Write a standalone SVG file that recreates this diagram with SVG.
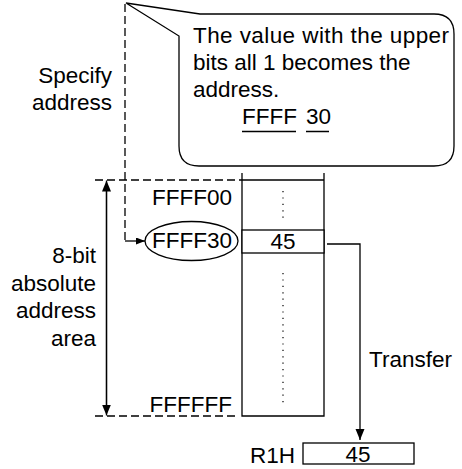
<svg xmlns="http://www.w3.org/2000/svg" width="462" height="469" viewBox="0 0 462 469">
  <style>
    text { font-family: "Liberation Sans", Arial, sans-serif; font-size: 22.5px; fill: #000; }
    .line { fill: none; stroke: #000; stroke-width: 1.3; }
    .dash { fill: none; stroke: #000; stroke-width: 1.3; stroke-dasharray: 8 4; }
    .dots { fill: none; stroke: #000; stroke-width: 1.2; stroke-dasharray: 1.2 5.2; }
    .box { fill: #fff; stroke: #000; stroke-width: 1.3; }
    .end { text-anchor: end; }
    .mid { text-anchor: middle; }
  </style>
  <defs>
    <marker id="head" markerUnits="userSpaceOnUse" markerWidth="12" markerHeight="10" refX="11" refY="4.5" orient="auto">
      <path d="M0,0 L11,4.5 L0,9 Z" fill="#000"/>
    </marker>
    <marker id="headSmall" markerUnits="userSpaceOnUse" markerWidth="10" markerHeight="8" refX="9" refY="3.5" orient="auto">
      <path d="M0,0 L9,3.5 L0,7 Z" fill="#000"/>
    </marker>
  </defs>

  <!-- speech balloon with its pointer -->
  <g id="callout">
    <path class="box" d="M126,3 L200,14 L434,14 Q454,14 454,34 L454,146 Q454,166 434,166 L199,166 Q179,166 179,146 L179,36 Z"/>
    <text x="193" y="43" textLength="256">The value with the upper</text>
    <text x="193" y="70">bits all 1 becomes the</text>
    <text x="193" y="97">address.</text>
    <text x="242" y="124">FFFF</text>
    <text x="306" y="124">30</text>
    <path class="line" d="M242,131.5 H296 M306,131.5 H329"/>
  </g>

  <!-- side labels -->
  <g id="label-specify">
    <text class="end" x="112" y="83">Specify</text>
    <text class="end" x="112" y="110">address</text>
  </g>
  <g id="label-area">
    <text class="end" x="96" y="263">8-bit</text>
    <text class="end" x="96" y="291">absolute</text>
    <text class="end" x="96" y="318">address</text>
    <text class="end" x="96" y="346">area</text>
  </g>

  <!-- address labels -->
  <g id="addr-ffff00">
    <text class="end" x="232" y="205">FFFF00</text>
  </g>
  <g id="addr-ffff30">
    <ellipse class="line" cx="191.5" cy="241" rx="46.5" ry="19.5"/>
    <text class="end" x="232" y="248">FFFF30</text>
  </g>
  <g id="addr-ffffff">
    <text class="end" x="232" y="412">FFFFFF</text>
  </g>

  <!-- memory column -->
  <g id="memory">
    <path class="line" d="M242,173 V416 H324 V173 M242,180 H324"/>
    <rect class="box" x="242" y="230" width="82" height="23"/>
    <text class="mid" x="283" y="249">45</text>
    <path class="dots" d="M283,191 V223 M283,273 V403"/>
  </g>

  <!-- destination register -->
  <g id="r1h">
    <text x="250" y="463">R1H</text>
    <rect class="box" x="303" y="443" width="111" height="21"/>
    <text class="mid" x="358" y="462">45</text>
  </g>

  <g id="transfer-label">
    <text x="369" y="367">Transfer</text>
  </g>

  <!-- connectors -->
  <g id="connectors">
    <path class="dash" d="M95,180 H242"/>
    <path class="dash" d="M95,416 H236"/>
    <path class="line" d="M106.5,406 V190"/>
    <path class="line" d="M106.5,200 V180.5" marker-end="url(#head)"/>
    <path class="line" d="M106.5,200 V415.5" marker-end="url(#head)"/>
    <path class="dash" d="M125,4 V241"/>
    <path class="line" d="M125,241 H145" marker-end="url(#headSmall)"/>
    <path class="line" d="M327,244 H360 V440" marker-end="url(#head)"/>
  </g>
</svg>
